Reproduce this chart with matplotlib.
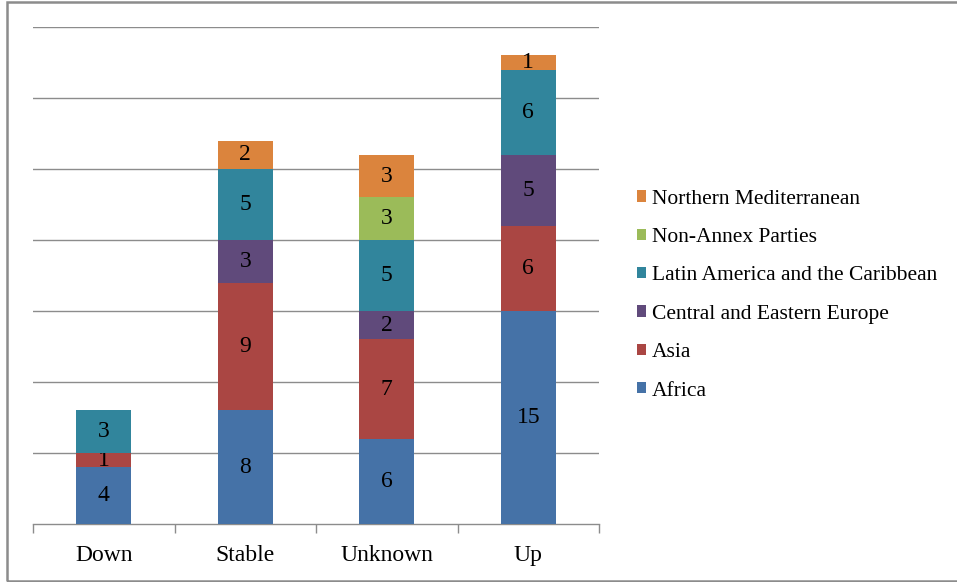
import matplotlib
matplotlib.use('Agg')
import matplotlib.pyplot as plt
import numpy as np
from matplotlib.patches import Rectangle

plt.rcParams['font.family'] = ['Liberation Serif', 'DejaVu Serif']

categories = ['Down', 'Stable', 'Unknown', 'Up']
regions = ['Africa', 'Asia', 'Central and Eastern Europe',
           'Latin America and the Caribbean', 'Non-Annex Parties',
           'Northern Mediterranean']

# Number of countries per region in each trend group
africa = [4, 8, 6, 15]
asia = [1, 9, 7, 6]
cee = [0, 3, 2, 5]
latin = [3, 5, 5, 6]
non_annex = [0, 0, 3, 0]
north_med = [0, 2, 3, 1]

series = [africa, asia, cee, latin, non_annex, north_med]
colors = ['#4572A7', '#AA4643', '#604A7B', '#31859C', '#9BBB59', '#DB843D']

fig = plt.figure(figsize=(9.57, 5.82), dpi=100)
ax = fig.add_axes([0.0345, 0.0997, 0.5915, 0.8539])

x = np.arange(len(categories))
bottom = np.zeros(len(categories))
bars = []
for vals, name, c in zip(series, regions, colors):
    vals = np.array(vals)
    b = ax.bar(x, vals, 0.39, bottom=bottom, color=c, label=name, zorder=3)
    labels = [str(v) if v > 0 else '' for v in vals]
    ax.bar_label(b, labels=labels, label_type='center', fontsize=17, color='black')
    bars.append(b)
    bottom += vals

ax.set_xlim(-0.5, 3.5)
ax.set_ylim(0, 35)
ax.set_yticks(np.arange(5, 36, 5))
ax.yaxis.grid(True, color='#8c8c8c', linewidth=1.0, zorder=0)
ax.tick_params(axis='y', left=False, labelleft=False)

ax.set_xticks(x)
ax.set_xticklabels(categories, fontsize=17)
ax.set_xticks(np.arange(-0.5, 4.0, 1.0), minor=True)
ax.tick_params(axis='x', which='major', length=0, pad=15)
ax.tick_params(axis='x', which='minor', length=6.5, color='#8c8c8c', width=1.0)

for s in ['top', 'right', 'left']:
    ax.spines[s].set_visible(False)
ax.spines['bottom'].set_color('#8c8c8c')
ax.spines['bottom'].set_linewidth(1.0)

handles = bars[::-1]
names = regions[::-1]
fig.legend(handles, names, loc='center left', bbox_to_anchor=(0.6656, 0.493),
           frameon=False, fontsize=15.5, handlelength=0.43, handleheight=0.43,
           handletextpad=0.25, labelspacing=0.9, borderpad=0, borderaxespad=0)

# outer chart border (runs off the right edge)
fig.patches.append(Rectangle((7 / 957, 1.5 / 582), 960 / 957, 579 / 582,
                             transform=fig.transFigure, fill=False,
                             edgecolor='#8c8c8c', linewidth=1.8))

fig.savefig('out.png', dpi=100)
